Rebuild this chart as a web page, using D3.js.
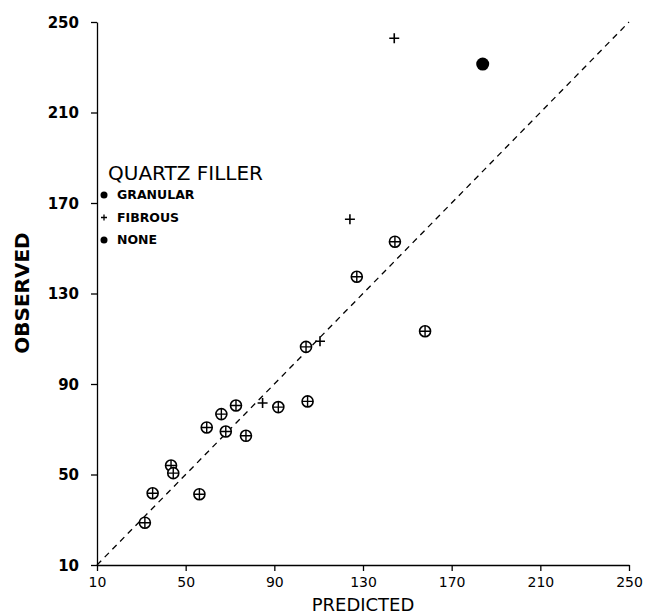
<!DOCTYPE html>
<html>
<head>
<meta charset="utf-8">
<script src="https://cdn.jsdelivr.net/npm/d3@7"></script>
<style>
  body { margin: 0; background: #fff; }
  text { font-family: "DejaVu Sans", "Liberation Sans", sans-serif; fill: #000; }
</style>
</head>
<body>
<div id="chart"></div>
<script>
// data (predicted, observed)
const ticks = [10, 50, 90, 130, 170, 210, 250]
const granular = [
    [31.6, 28.7], [35.1, 41.7], [43.4, 54.0], [44.4, 50.6], [56.2, 41.3],
    [59.5, 70.8], [66.1, 76.7], [68.1, 69.0], [72.7, 80.5], [77.2, 67.1],
    [91.8, 79.8], [105.0, 82.3], [104.3, 106.4], [127.2, 137.4], [144.4, 152.9],
    [158.0, 113.3]
]
const fibrous = [[84.7, 81.6], [110.6, 108.9], [124.1, 162.8], [144.1, 242.8]]
const none = [[184.0, 231.4]]
const legendLabels = ['GRANULAR', 'FIBROUS', 'NONE']

const W = 649, H = 616

const svg = d3.select('#chart')
    .append('svg')
    .attr('width', W)
    .attr('height', H)

const x = d3.scaleLinear().domain([10, 250]).range([97, 629])
const y = d3.scaleLinear().domain([10, 250]).range([565, 22])

// axes
const yAxis = svg.append('g')
    .attr('transform', 'translate(97,0)')
    .call(d3.axisLeft(y).tickValues(ticks).tickSize(6).tickSizeOuter(0).tickFormat(d3.format('d')))
const xAxis = svg.append('g')
    .attr('transform', 'translate(0,565)')
    .call(d3.axisBottom(x).tickValues(ticks).tickSize(6).tickSizeOuter(0).tickFormat(d3.format('d')))

for (const a of [xAxis, yAxis]) {
    a.selectAll('path, line').attr('stroke', '#000').attr('stroke-width', 1.3)
    a.selectAll('text')
        .style('font-size', '15px')
        .attr('fill', '#000')
}
yAxis.selectAll('text').attr('x', -18).attr('dy', '0.35em').style('font-weight', 'bold')
xAxis.selectAll('text').attr('y', 12).style('font-size', '14px')

// axis titles
svg.append('text')
    .attr('x', 363).attr('y', 611)
    .attr('text-anchor', 'middle')
    .style('font-size', '18px')
    .text('PREDICTED')
svg.append('text')
    .attr('transform', 'translate(29,293) rotate(-90)')
    .attr('text-anchor', 'middle')
    .style('font-size', '20px')
    .style('font-weight', 'bold')
    .text('OBSERVED')

// line of equality
svg.append('line')
    .attr('x1', x(10)).attr('y1', y(10))
    .attr('x2', x(250)).attr('y2', y(250))
    .attr('stroke', '#000')
    .attr('stroke-width', 1.3)
    .attr('stroke-dasharray', '6,5')

// granular: circle with a cross
const g1 = svg.append('g').selectAll('g')
    .data(granular)
    .join('g')
    .attr('transform', d => 'translate(' + x(d[0]) + ',' + y(d[1]) + ')')
g1.append('circle').attr('r', 5.5).attr('fill', '#fff').attr('stroke', '#000').attr('stroke-width', 1.6)
g1.append('path').attr('d', 'M-5.5,0H5.5M0,-5.5V5.5').attr('stroke', '#000').attr('stroke-width', 1.4)

// fibrous: plus
svg.append('g').selectAll('path')
    .data(fibrous)
    .join('path')
    .attr('transform', d => 'translate(' + x(d[0]) + ',' + y(d[1]) + ')')
    .attr('d', 'M-5,0H5M0,-5V5')
    .attr('stroke', '#000')
    .attr('stroke-width', 1.6)

// none: filled dot
svg.append('g').selectAll('circle')
    .data(none)
    .join('circle')
    .attr('cx', d => x(d[0]))
    .attr('cy', d => y(d[1]))
    .attr('r', 6.5)
    .attr('fill', '#000')

// legend
const leg = svg.append('g').attr('transform', 'translate(104,0)')
leg.append('text')
    .attr('x', 4).attr('y', 180)
    .style('font-size', '20px')
    .style('font-weight', '500')
    .text('QUARTZ FILLER')
const items = leg.selectAll('g.item')
    .data(legendLabels)
    .join('g')
    .attr('class', 'item')
    .attr('transform', (d, i) => 'translate(0,' + (195 + i * 22.5) + ')')
items.filter(d => d !== 'FIBROUS').append('circle').attr('r', 3.5).attr('fill', '#000')
items.filter(d => d === 'FIBROUS').append('path').attr('d', 'M-3,0H3M0,-3V3').attr('stroke', '#000').attr('stroke-width', 1.3)
items.append('text')
    .attr('x', 13).attr('dy', '0.35em')
    .style('font-size', '12.5px')
    .style('font-weight', 'bold')
    .text(d => d)
</script>
</body>
</html>
